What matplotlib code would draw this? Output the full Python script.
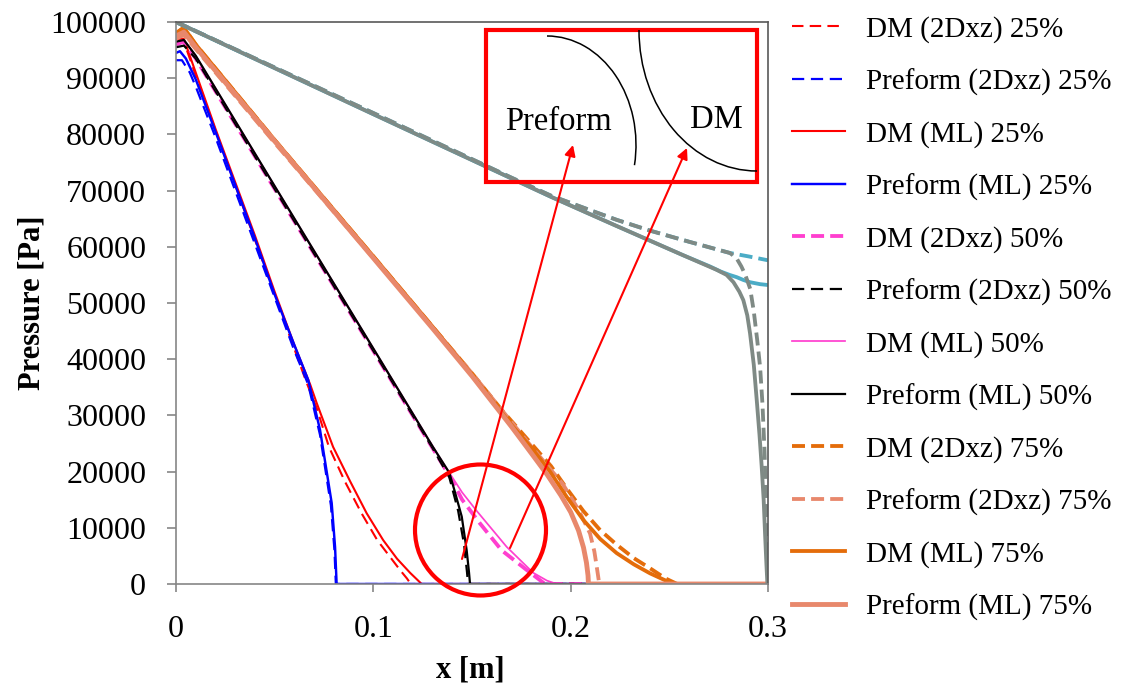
import matplotlib
matplotlib.use('Agg')
import matplotlib.pyplot as plt
from matplotlib.patches import Rectangle, Circle, Arc

plt.rcParams['font.family'] = ['Liberation Serif', 'DejaVu Serif']

# ---------------- data (x in m, pressure in Pa) ----------------
x_dm_2d_25 = [0, 0.004, 0.01, 0.03, 0.05, 0.066, 0.0713, 0.0775, 0.0855, 0.094, 0.102, 0.1135, 0.117, 0.119, 0.30]
p_dm_2d_25 = [96000, 96500, 90500, 71000, 51500, 36000, 31300, 24400, 18300, 12600, 7800, 2500, 1000, 0, 0]

x_pf_2d_25 = [0, 0.003, 0.007, 0.01, 0.02, 0.03, 0.04, 0.05, 0.06, 0.067, 0.073, 0.0785, 0.0803, 0.081, 0.30]
p_pf_2d_25 = [93200, 93200, 91000, 88500, 79500, 70000, 60500, 51000, 41500, 35500, 26500, 14000, 6000, 0, 0]

x_dm_ml_25 = [0, 0.004, 0.01, 0.02, 0.03, 0.04, 0.05, 0.06, 0.068, 0.0713, 0.0796, 0.0882, 0.0966, 0.105, 0.112, 0.1186, 0.1245, 0.30]
p_dm_ml_25 = [97000, 97000, 91000, 81000, 71500, 62000, 52000, 42500, 35500, 32200, 24400, 18300, 12600, 7800, 4500, 2000, 0, 0]

x_pf_ml_25 = [0, 0.002, 0.005, 0.01, 0.02, 0.03, 0.04, 0.05, 0.06, 0.067, 0.073, 0.0789, 0.0806, 0.0814, 0.30]
p_pf_ml_25 = [94500, 94800, 93500, 89800, 80500, 71000, 61500, 51500, 42500, 36300, 27400, 14400, 6600, 0, 0]

x_dm_2d_50 = [0, 0.004, 0.01, 0.05, 0.10, 0.13, 0.1385, 0.145, 0.154, 0.165, 0.1777, 0.187, 0.30]
p_dm_2d_50 = [96000, 96500, 93500, 70300, 41500, 24200, 19300, 15000, 10800, 6000, 2500, 0, 0]

x_pf_2d_50 = [0, 0.004, 0.01, 0.05, 0.10, 0.13, 0.1385, 0.143, 0.146, 0.1475, 0.148, 0.30]
p_pf_2d_50 = [95500, 95800, 93500, 70300, 41500, 24200, 19000, 13000, 7000, 2000, 0, 0]

x_dm_ml_50 = [0, 0.004, 0.01, 0.05, 0.10, 0.13, 0.1385, 0.145, 0.1524, 0.1676, 0.181, 0.188, 0.193, 0.30]
p_dm_ml_50 = [96500, 96800, 94000, 70800, 41900, 24500, 19800, 16300, 13000, 6600, 2000, 600, 0, 0]

x_pf_ml_50 = [0, 0.004, 0.01, 0.05, 0.10, 0.13, 0.1385, 0.141, 0.1448, 0.1473, 0.1485, 0.149, 0.30]
p_pf_ml_50 = [96500, 96800, 94000, 70800, 41900, 24500, 19800, 16800, 12000, 6000, 2000, 0, 0]

x_dm_2d_75 = [0, 0.004, 0.01, 0.05, 0.10, 0.13, 0.15, 0.165, 0.18, 0.19, 0.198, 0.2064, 0.2149, 0.2233, 0.232, 0.2402, 0.248, 0.254, 0.30]
p_dm_2d_75 = [98000, 99000, 96000, 79000, 58300, 45800, 37500, 31000, 25000, 21000, 17000, 13000, 9600, 7000, 4600, 2800, 1000, 0, 0]

x_pf_2d_75 = [0, 0.004, 0.01, 0.05, 0.10, 0.13, 0.15, 0.165, 0.18, 0.19, 0.196, 0.204, 0.2098, 0.212, 0.2132, 0.2145, 0.30]
p_pf_2d_75 = [97000, 97700, 95200, 78500, 58000, 45700, 37500, 31000, 24500, 20300, 17800, 13200, 9000, 5800, 3100, 0, 0]

x_dm_ml_75 = [0, 0.004, 0.01, 0.05, 0.10, 0.13, 0.15, 0.17, 0.18, 0.1895, 0.198, 0.2064, 0.215, 0.2233, 0.232, 0.2402, 0.247, 0.252, 0.30]
p_dm_ml_75 = [98000, 99000, 96000, 79000, 58300, 45800, 37200, 28300, 24300, 20000, 15500, 11400, 8000, 5500, 3500, 1900, 800, 0, 0]

x_pf_ml_75 = [0, 0.004, 0.01, 0.05, 0.10, 0.13, 0.15, 0.17, 0.18, 0.188, 0.195, 0.20, 0.204, 0.2065, 0.208, 0.2088, 0.209, 0.30]
p_pf_ml_75 = [97500, 98200, 95500, 78800, 58000, 45500, 37000, 28000, 23300, 19500, 15800, 12800, 9500, 6500, 3800, 1500, 0, 0]

# 100 % series (not listed in the legend)
x_dm_2d_100 = [0, 0.10, 0.17, 0.19, 0.21, 0.2233, 0.24, 0.26, 0.2807, 0.29, 0.30]
p_dm_2d_100 = [100000, 83800, 72300, 69100, 66500, 64800, 62900, 60900, 58900, 58300, 57600]

x_pf_2d_100 = [0, 0.10, 0.17, 0.19, 0.21, 0.2233, 0.24, 0.26, 0.2807, 0.284, 0.2865, 0.2885, 0.291, 0.2928,
               0.2945, 0.296, 0.2972, 0.2982, 0.299, 0.2996, 0.30]
p_pf_2d_100 = [100000, 83800, 72300, 69100, 66500, 64800, 62900, 60900, 58900, 58000, 56500, 55000, 52500, 48500,
               43500, 38600, 32000, 24000, 15000, 6000, 0]

x_dm_ml_100 = [0, 0.10, 0.19, 0.2233, 0.257, 0.2706, 0.276, 0.2805, 0.2841, 0.2875, 0.2909, 0.296, 0.30]
p_dm_ml_100 = [100000, 83600, 68900, 63700, 58500, 56500, 55600, 55000, 54600, 54100, 53700, 53350, 53200]

x_pf_ml_100 = [0, 0.10, 0.19, 0.2233, 0.257, 0.274, 0.279, 0.2825, 0.2855, 0.2875, 0.2895, 0.2909, 0.2928, 0.2943,
               0.2957, 0.2968, 0.2978, 0.2985, 0.2992, 0.2997, 0.30]
p_pf_ml_100 = [100000, 83600, 68900, 63700, 58500, 55900, 55000, 53700, 52000, 50500, 47800, 44600, 39000, 32700,
               26500, 20900, 15000, 9000, 3500, 0, 0]

x_ticks = [0, 0.1, 0.2, 0.3]
x_tick_labels = ['0', '0.1', '0.2', '0.3']
y_ticks = list(range(0, 100001, 10000))
y_tick_labels = [str(v) for v in y_ticks]

# ---------------- figure ----------------
W, H = 1122, 688
fig = plt.figure(figsize=(W / 100, H / 100), dpi=100)
ax = fig.add_axes([176 / W, 1 - 584 / H, (768 - 176) / W, (584 - 22) / H])

RED, BLUE, PINK, BLACK = '#FF0000', '#0000FF', '#FF3FCF', '#000000'
ORANGE, SALMON = '#E46C0A', '#E8886C'
GRAY, CYAN = '#7F8A85', '#4BACC6'

thin_dash = (5.5, 3.0)
thick_dash = (3.4, 1.6)

ax.plot(x_dm_2d_25, p_dm_2d_25, color=RED, lw=1.5, dashes=thin_dash, label='DM (2Dxz) 25%')
ax.plot(x_pf_2d_25, p_pf_2d_25, color=BLUE, lw=1.6, dashes=thin_dash, label='Preform (2Dxz) 25%')
ax.plot(x_dm_ml_25, p_dm_ml_25, color=RED, lw=1.5, label='DM (ML) 25%')
ax.plot(x_pf_ml_25, p_pf_ml_25, color=BLUE, lw=1.75, label='Preform (ML) 25%')
ax.plot(x_dm_2d_50, p_dm_2d_50, color=PINK, lw=2.75, dashes=thick_dash, label='DM (2Dxz) 50%')
ax.plot(x_pf_2d_50, p_pf_2d_50, color=BLACK, lw=1.6, dashes=thin_dash, label='Preform (2Dxz) 50%')
ax.plot(x_dm_ml_50, p_dm_ml_50, color=PINK, lw=1.25, label='DM (ML) 50%')
ax.plot(x_pf_ml_50, p_pf_ml_50, color=BLACK, lw=1.6, label='Preform (ML) 50%')
ax.plot(x_dm_2d_75, p_dm_2d_75, color=ORANGE, lw=2.75, dashes=thick_dash, label='DM (2Dxz) 75%')
ax.plot(x_pf_2d_75, p_pf_2d_75, color=SALMON, lw=2.75, dashes=thick_dash, label='Preform (2Dxz) 75%')
ax.plot(x_dm_ml_75, p_dm_ml_75, color=ORANGE, lw=2.75, label='DM (ML) 75%')
ax.plot(x_pf_ml_75, p_pf_ml_75, color=SALMON, lw=3.5, label='Preform (ML) 75%')

ax.plot(x_dm_ml_100, p_dm_ml_100, color=CYAN, lw=2.75, label='_nolegend_')
ax.plot(x_pf_ml_100, p_pf_ml_100, color=GRAY, lw=2.75, label='_nolegend_')
ax.plot(x_dm_2d_100, p_dm_2d_100, color=CYAN, lw=2.75, dashes=thick_dash, label='_nolegend_')
ax.plot(x_pf_2d_100, p_pf_2d_100, color=GRAY, lw=2.75, dashes=thick_dash, label='_nolegend_')

ax.set_xlim(0, 0.3)
ax.set_ylim(0, 100000)
ax.set_xticks(x_ticks)
ax.set_xticklabels(x_tick_labels)
ax.set_yticks(y_ticks)
ax.set_yticklabels(y_tick_labels)
ax.tick_params(axis='both', direction='out', color='#868686', labelsize=23, width=1.2)
ax.tick_params(axis='y', length=6.5, pad=15)
ax.tick_params(axis='x', length=6, pad=16)

for s in ['left', 'bottom']:
    ax.spines[s].set_color('#868686')
    ax.spines[s].set_linewidth(1.2)
for s in ['top', 'right']:
    ax.spines[s].set_color('#595959')
    ax.spines[s].set_linewidth(1.2)

ax.set_ylabel('Pressure [Pa]', fontsize=22, fontweight='bold')
ax.yaxis.set_label_coords(-0.218, 0.5)
ax.set_xlabel('x [m]', fontsize=22, fontweight='bold')
ax.xaxis.set_label_coords(0.497, -0.128)

ax.legend(loc='upper left', bbox_to_anchor=(792 / W, 1 - 16 / H), bbox_transform=fig.transFigure,
          frameon=False, fontsize=21, handlelength=1.8, handletextpad=0.75,
          labelspacing=0.87, borderpad=0, borderaxespad=0)

# ---------------- annotation overlay (pixel coordinates) ----------------
ov = fig.add_axes([0, 0, 1, 1])
ov.set_xlim(0, W)
ov.set_ylim(H, 0)
ov.axis('off')
ov.patch.set_alpha(0)

ov.add_patch(Rectangle((486, 30), 271, 152, fill=False, ec='red', lw=3))
ov.add_patch(Arc((547, 145), 178, 218, theta1=-90, theta2=13, color='black', lw=1.1))
ov.add_patch(Arc((757, 30), 236, 282, theta1=90, theta2=180, color='black', lw=1.1))
ov.text(558.5, 130, 'Preform', fontsize=23.5, ha='center', va='baseline')
ov.text(716, 127.5, 'DM', fontsize=23.5, ha='center', va='baseline')
ov.add_patch(Circle((480.5, 530), 65.5, fill=False, ec='red', lw=3))
for tip, start in [((573, 145), (462, 559)), ((687, 148), (510, 548))]:
    ov.annotate('', xy=tip, xytext=start,
                arrowprops=dict(arrowstyle='-|>', color='red', lw=1.5,
                                mutation_scale=16, shrinkA=0, shrinkB=0))

fig.savefig('out.png', dpi=100)
